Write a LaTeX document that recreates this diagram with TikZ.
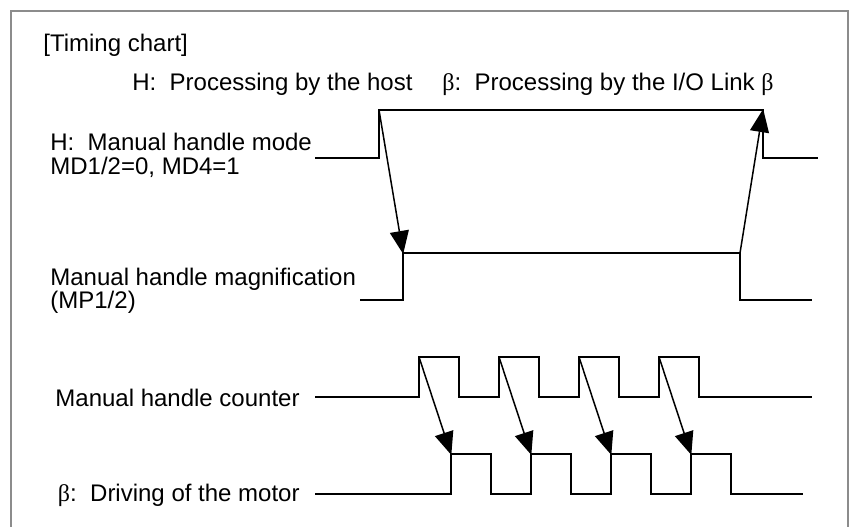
\documentclass[tikz,border=0pt]{standalone}
\usepackage{fontspec}
\setmainfont{Liberation Sans}
\newfontfamily\grkfont{Liberation Serif}
\usetikzlibrary{arrows.meta}
\newcommand{\bet}{{\grkfont β}}
\begin{document}
\begin{tikzpicture}[x=0.5pt,y=-0.5pt,
  sig/.style={line width=1pt,line join=miter},
  evt/.style={line width=0.75pt,-{Triangle[length=11.5pt,width=9.5pt]},shorten >=-0.5pt},
  lbl/.style={inner sep=0pt,font=\fontsize{12pt}{14pt}\selectfont},
  frame/.style={line width=1.1pt,draw={rgb,255:red,140;green,140;blue,140}}]
\fill[white] (0,0) rectangle (850,526);
\useasboundingbox (0,0) rectangle (850,526);
\draw[frame] (11,527) -- (11,11) -- (848,11) -- (848,527);
% texts
\node[lbl,anchor=base west] (title) at (43,51) {[Timing chart]};
\node[lbl,anchor=base west] (leg1) at (132,90) {H:\ \ Processing by the host};
\node[lbl,anchor=base west] (leg2) at (442,90) {\bet:\ \ Processing by the I/O Link \bet};
\node[lbl,anchor=base west] (m1) at (50,150) {H:\ \ Manual handle mode};
\node[lbl,anchor=base west] (m2) at (50,174) {MD1/2=0, MD4=1};
\node[lbl,anchor=base west] (g1) at (50,285) {Manual handle magnification};
\node[lbl,anchor=base west] (g2) at (50,308) {(MP1/2)};
\node[lbl,anchor=base east] (c1) at (300,406) {Manual handle counter};
\node[lbl,anchor=base east] (d1) at (300,501) {\bet:\ \ Driving of the motor};
% mode signal
\coordinate (mA) at (379,110);
\coordinate (mB) at (763,110);
\draw[sig] (315,158) -- (379,158) -- (mA) -- (mB) -- (763,158) -- (818,158);
% magnification signal
\coordinate (gA) at (403,253);
\coordinate (gB) at (740,253);
\draw[sig] (360,300) -- (403,300) -- (gA) -- (gB) -- (740,300) -- (812,300);
\draw[evt] (mA) -- (gA);
\draw[evt] (gB) -- (mB);
% counter and motor
\draw[sig] (315,397) -- (419,397)
  \foreach \i in {0,1,2,3} { -- ({419+80*\i},357) -- ({459+80*\i},357) -- ({459+80*\i},397) -- ({499+80*\i},397) }
  -- (812,397);
\draw[sig] (315,494) -- (451,494)
  \foreach \i in {0,1,2,3} { -- ({451+80*\i},454) -- ({491+80*\i},454) -- ({491+80*\i},494) -- ({531+80*\i},494) }
  -- (803,494);
\foreach \i in {0,1,2,3} {
  \coordinate (c\i) at ({419+80*\i},357);
  \coordinate (d\i) at ({451+80*\i},454);
  \draw[evt] (c\i) -- (d\i);
}
\end{tikzpicture}
\end{document}
